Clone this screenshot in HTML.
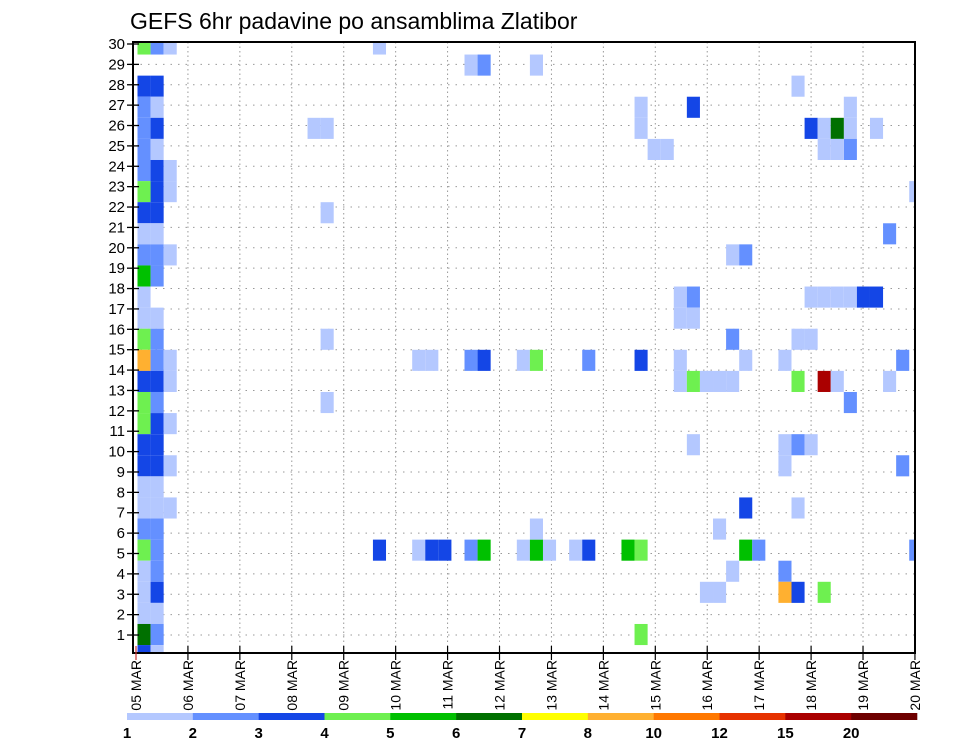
<!DOCTYPE html>
<html><head><meta charset="utf-8"><style>
body{margin:0;background:#fff;}
svg{display:block;font-family:"Liberation Sans",sans-serif;}
</style></head><body>
<svg id="chart" width="960" height="742" viewBox="0 0 960 742" xmlns="http://www.w3.org/2000/svg">
<rect width="960" height="742" fill="#fff"/>
<text x="130" y="29" font-size="23" fill="#000">GEFS 6hr padavine po ansamblima Zlatibor</text>
<defs><clipPath id="plotclip"><rect x="133" y="42" width="782" height="611"/></clipPath></defs>
<g id="grid"></g>
<g id="cells" clip-path="url(#plotclip)"></g>
<rect x="133" y="42" width="782" height="611" fill="none" stroke="#000" stroke-width="2"/>
<g id="axes"></g>
<g id="legend"></g>
</svg>
<script>
// data
const dayLabels = ["05 MAR","06 MAR","07 MAR","08 MAR","09 MAR","10 MAR","11 MAR","12 MAR","13 MAR","14 MAR","15 MAR","16 MAR","17 MAR","18 MAR","19 MAR","20 MAR"];
const memberTicks = [1,2,3,4,5,6,7,8,9,10,11,12,13,14,15,16,17,18,19,20,21,22,23,24,25,26,27,28,29,30];
const levelBounds = [1,2,3,4,5,6,7,8,10,12,15,20];
const levelLabels = ["1","2","3","4","5","6","7","8","10","12","15","20"];
const levelColors = ["#b4c8ff","#6490ff","#1446e6","#6ef050","#00c000","#007000","#ffff00","#ffb030","#ff7800","#e63200","#aa0000","#6e0000"];
// cells: time step (6hr index), member, precipitation value
const cellStep = [
0,1,2, 0,1, 0,1, 0,1, 0,1, 0,1,2, 0,1,2, 0,1, 0,1, 0,1,2, 0,1, 0, 0,1, 0,1, 0,1,2, 0,1,2, 0,1, 0,1,2, 0,1, 0,1,2, 0,1, 0,1,2, 0,1, 0,1, 0,1, 0,1, 0,1, 0,1, 0,1,
18, 25,26,30, 13,14, 14, 14, 21,22,25,26,29,30, 14, 18,21,22,23,25,26,29,30,31, 30,
38,38,39,40,42, 45,46, 41,42,41,42, 45, 34,38,41,46, 41,42,43,44,45, 42, 46,44, 33,34,37,38,46,47, 45,43,44,38,
50,54,54,54, 51,52,53, 52,53, 56,59,57, 51,52,53,54,55,56, 50,51, 49,58, 50,52,53,57, 54, 49,49,50,51, 58, 50, 59, 49,49,50,52];
const cellMember = [
30,30,30, 28,28, 27,27, 26,26, 25,25, 24,24,24, 23,23,23, 22,22, 21,21, 20,20,20, 19,19, 18, 17,17, 16,16, 15,15,15, 14,14,14, 13,13, 12,12,12, 11,11, 10,10,10, 9,9, 8,8,8, 7,7, 6,6, 5,5, 4,4, 3,3, 2,2, 1,1,
30, 29,29,29, 26,26, 22, 16, 15,15,15,15,15,15, 13, 6,6,6,6,6,6,6,6,6, 7,
27,26,25,25,27, 20,20, 18,18,17,17, 16, 15,15,15,15, 14,14,14,14,14, 11, 8,7, 6,6,6,6,6,6, 5,4,4,2,
28,27,26,25, 26,26,26, 25,25, 26,23,21, 18,18,18,18,18,18, 16,16, 15,15, 14,14,14,14, 13, 11,10,11,11, 10, 8, 6, 5,4,4,4];
const cellValue = [
4.5,2.5,1.5, 3.5,3.5, 2.5,1.5, 2.5,3.5, 2.5,1.5, 2.5,3.5,1.5, 4.5,3.5,1.5, 3.5,3.5, 1.5,1.5, 2.5,2.5,1.5, 5.5,2.5, 1.5, 1.5,1.5, 4.5,2.5, 9,2.5,1.5, 3.5,3.5,1.5, 4.5,2.5, 4.5,3.5,1.5, 3.5,3.5, 3.5,3.5,1.5, 1.5,1.5, 1.5,1.5,1.5, 2.5,2.5, 4.5,2.5, 1.5,2.5, 1.5,3.5, 1.5,1.5, 6.5,2.5, 3.5,1.5,
1.5, 1.5,2.5,1.5, 1.5,1.5, 1.5, 1.5, 1.5,1.5,2.5,3.5,1.5,4.5, 1.5, 3.5,1.5,3.5,3.5,2.5,5.5,1.5,5.5,1.5, 1.5,
1.5,1.5,1.5,1.5,3.5, 1.5,2.5, 1.5,2.5,1.5,1.5, 2.5, 2.5,3.5,1.5,1.5, 1.5,4.5,1.5,1.5,1.5, 1.5, 3.5,1.5, 1.5,3.5,5.5,4.5,5.5,2.5, 1.5,1.5,1.5,4.5,
1.5,1.5,1.5,2.5, 3.5,1.5,6.5, 1.5,1.5, 1.5,1.5,2.5, 1.5,1.5,1.5,1.5,3.5,3.5, 1.5,1.5, 1.5,2.5, 4.5,17,1.5,1.5, 2.5, 1.5,1.5,2.5,1.5, 2.5, 1.5, 2.5, 2.5,9,3.5,4.5];

const NS='http://www.w3.org/2000/svg';
function mk(tag, attrs, parent){const e=document.createElementNS(NS,tag);for(const k in attrs)e.setAttribute(k,attrs[k]);parent.appendChild(e);return e;}
// axis functions
const dayX = d => 136 + 51.93*d;
const stepX = j => 137.5 + 13.08*j;
const cellW = 13.08;
const cellY = m => 44 + (30-m)*21.09 - 10.545;
const cellH = 21.09;
const tickY = r => 655.4 - 20.38*r;
function colorFor(v){let idx=0;for(let i=0;i<levelBounds.length;i++){if(v>=levelBounds[i])idx=i;}return levelColors[idx];}

const grid=document.getElementById('grid');
memberTicks.forEach(r=>{ if(r<30){
  const l=mk('line',{x1:133,x2:915,y1:tickY(r),y2:tickY(r),stroke:'#999','stroke-width':1,'stroke-dasharray':'1.5 6'},grid);
  
  
}});
dayLabels.forEach((lab,d)=>{ if(d>0&&d<15){
  const l=mk('line',{x1:dayX(d),x2:dayX(d),y1:42,y2:653,stroke:'#999','stroke-width':1,'stroke-dasharray':'1.5 3'},grid);
  
  
}});

const cells=document.getElementById('cells');
for(let i=0;i<cellStep.length;i++){
  const r=mk('rect',{x:stepX(cellStep[i]),y:cellY(cellMember[i]),width:cellW,height:cellH,fill:colorFor(cellValue[i])},cells);
  
  
}

const axes=document.getElementById('axes');
memberTicks.forEach(r=>{
  const t=mk('line',{x1:127,x2:139,y1:tickY(r),y2:tickY(r),stroke:'#000','stroke-width':1.3},axes);
  
  
  const tx=mk('text',{x:125,y:tickY(r)+5,'font-size':15,'text-anchor':'end',fill:'#000'},axes);
  tx.textContent=r;
  
  
});
dayLabels.forEach((lab,d)=>{
  const x=dayX(d);
  const t=mk('line',{x1:x,x2:x,y1:646,y2:660,stroke:d===0?'#c33':'#000','stroke-width':1.2},axes);
  
  
  const tx=mk('text',{x:0,y:0,'font-size':14,'text-anchor':'end',fill:'#000',transform:`translate(${x+5},660) rotate(-90)`},axes);
  tx.textContent=lab;
  
  
});

const legend=document.getElementById('legend');
const segW=(917-127)/levelColors.length;
levelColors.forEach((c,i)=>{
  const r=mk('rect',{x:127+segW*i,y:713,width:segW+0.3,height:7,fill:c},legend);
  
  
  const tx=mk('text',{x:127+segW*i,y:738,'font-size':15,'font-weight':'bold','text-anchor':'middle',fill:'#000'},legend);
  tx.textContent=levelLabels[i];
  
  
});
</script>
</body></html>
